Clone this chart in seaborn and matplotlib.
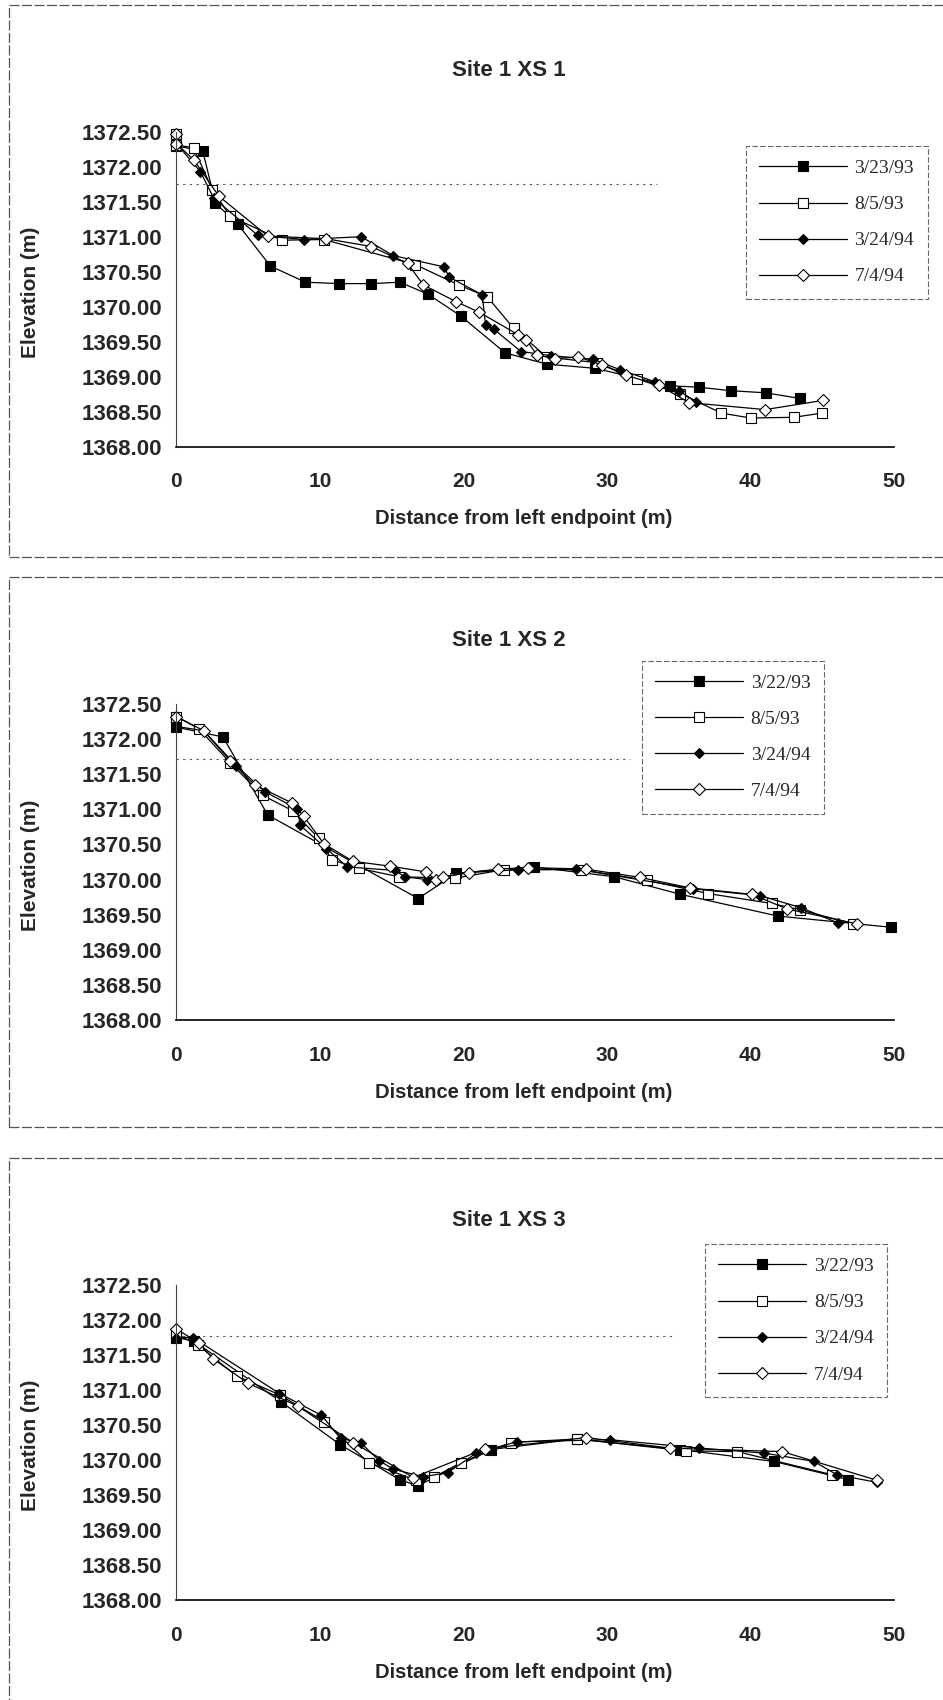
import matplotlib
matplotlib.use('Agg')
import matplotlib.pyplot as plt
from matplotlib.patches import Rectangle
from matplotlib.ticker import FormatStrFormatter, MultipleLocator
import seaborn as sns

sns.set_style('white')
plt.rcParams['font.family'] = ['Liberation Sans', 'DejaVu Sans']

# ---- Site 1 XS 1 ----
xs1_labels = ['3/23/93', '8/5/93', '3/24/94', '7/4/94']
xs1_dist_a = [0, 1.84, 2.72, 4.27, 6.55, 8.99, 11.31, 13.57, 15.56, 17.51, 19.79, 22.9, 25.78, 29.15,
              34.35, 36.4, 38.6, 41.05, 43.4]
xs1_elev_a = [1372.30, 1372.22, 1371.48, 1371.18, 1370.58, 1370.35, 1370.33, 1370.33, 1370.35, 1370.18,
              1369.87, 1369.34, 1369.18, 1369.12, 1368.87, 1368.85, 1368.80, 1368.77, 1368.69]
xs1_dist_b = [0, 0, 1.2, 2.5, 3.76, 7.36, 10.27, 16.65, 19.67, 21.65, 23.5, 25.8, 29.3, 32.1, 35.1,
              37.95, 40.0, 43.0, 44.95]
xs1_elev_b = [1372.47, 1372.31, 1372.27, 1371.67, 1371.29, 1370.95, 1370.96, 1370.60, 1370.31, 1370.14,
              1369.69, 1369.28, 1369.20, 1368.97, 1368.76, 1368.48, 1368.41, 1368.42, 1368.48]
xs1_dist_c = [0, 1.67, 2.6, 5.67, 8.87, 12.87, 15.1, 18.63, 19.02, 21.3, 21.53, 22.1, 24.0, 26.1, 29.0,
              30.9, 33.3, 35.0, 36.2]
xs1_elev_c = [1372.33, 1371.93, 1371.55, 1371.02, 1370.96, 1371.00, 1370.73, 1370.57, 1370.42, 1370.17,
              1369.74, 1369.68, 1369.36, 1369.30, 1369.25, 1369.10, 1368.93, 1368.80, 1368.64]
xs1_dist_d = [0, 0, 1.2, 2.95, 6.36, 10.45, 13.57, 16.1, 17.2, 19.5, 21.1, 23.8, 24.37, 25.1, 26.35,
              28.0, 29.65, 31.3, 33.6, 35.7, 41.0, 45.0]
xs1_elev_d = [1372.47, 1372.33, 1372.10, 1371.58, 1371.01, 1370.97, 1370.86, 1370.62, 1370.31, 1370.07,
              1369.92, 1369.60, 1369.53, 1369.31, 1369.26, 1369.28, 1369.17, 1369.02, 1368.88, 1368.63,
              1368.53, 1368.66]

# ---- Site 1 XS 2 ----
xs2_labels = ['3/22/93', '8/5/93', '3/24/94', '7/4/94']
xs2_dist_a = [0, 3.25, 6.36, 16.84, 19.5, 24.9, 30.5, 35.1, 41.9, 49.8]
xs2_elev_a = [1372.17, 1372.03, 1370.92, 1369.73, 1370.09, 1370.18, 1370.04, 1369.79, 1369.48, 1369.32]
xs2_dist_b = [0, 1.56, 3.76, 6.0, 8.1, 9.9, 10.85, 12.7, 15.5, 19.4, 22.8, 28.2, 32.75, 37.05, 41.45,
              43.4, 47.15]
xs2_elev_b = [1372.32, 1372.15, 1371.66, 1371.20, 1370.98, 1370.59, 1370.28, 1370.16, 1370.04, 1370.02,
              1370.14, 1370.14, 1369.99, 1369.80, 1369.66, 1369.57, 1369.37]
xs2_dist_c = [0, 1.9, 4.18, 6.16, 8.4, 8.64, 10.45, 11.9, 15.2, 15.9, 17.42, 20.4, 23.8, 27.8, 35.96,
              40.65, 43.5, 46.1]
xs2_elev_c = [1372.18, 1372.12, 1371.62, 1371.25, 1371.01, 1370.77, 1370.44, 1370.18, 1370.13, 1370.04,
              1370.00, 1370.10, 1370.14, 1370.15, 1369.87, 1369.77, 1369.60, 1369.38]
xs2_dist_d = [0, 1.9, 3.76, 5.44, 8.06, 8.87, 10.27, 12.3, 14.9, 17.35, 18.05, 18.6, 20.4, 22.4, 24.5,
              28.5, 32.3, 35.8, 40.07, 42.55, 47.4]
xs2_elev_d = [1372.32, 1372.12, 1371.69, 1371.35, 1371.09, 1370.90, 1370.51, 1370.26, 1370.19, 1370.11,
              1370.00, 1370.04, 1370.10, 1370.15, 1370.17, 1370.15, 1370.03, 1369.88, 1369.79, 1369.58,
              1369.37]

# ---- Site 1 XS 3 ----
xs3_labels = ['3/22/93', '8/5/93', '3/24/94', '7/4/94']
xs3_dist_a = [0, 1.2, 7.3, 11.4, 15.55, 16.8, 21.9, 27.9, 35.05, 41.6, 46.8]
xs3_elev_a = [1371.75, 1371.70, 1370.83, 1370.22, 1369.72, 1369.63, 1370.15, 1370.30, 1370.15, 1369.98,
              1369.72]
xs3_dist_b = [0, 1.5, 4.2, 7.2, 10.3, 13.4, 16.7, 17.97, 19.8, 23.3, 27.9, 35.5, 39.05, 45.66]
xs3_elev_b = [1371.80, 1371.64, 1371.20, 1370.93, 1370.55, 1369.96, 1369.71, 1369.76, 1369.96, 1370.25,
              1370.30, 1370.13, 1370.12, 1369.79]
xs3_dist_c = [0, 1.14, 7.18, 10.1, 11.43, 12.86, 14.14, 15.08, 17.17, 18.9, 20.9, 23.7, 30.2, 36.4,
              40.9, 44.4, 46.0, 48.8]
xs3_elev_c = [1371.75, 1371.75, 1370.95, 1370.64, 1370.31, 1370.24, 1369.99, 1369.87, 1369.76, 1369.82,
              1370.10, 1370.26, 1370.29, 1370.17, 1370.10, 1369.98, 1369.79, 1369.68]
xs3_dist_d = [0, 1.6, 2.53, 4.97, 8.45, 12.3, 16.5, 21.5, 28.55, 34.35, 42.2, 48.8]
xs3_elev_d = [1371.87, 1371.67, 1371.45, 1371.10, 1370.77, 1370.25, 1369.75, 1370.16, 1370.32, 1370.17,
              1370.12, 1369.71]

# dotted reference level on each section and where it stops
ref_level = [1371.75, 1371.71, 1371.77]
ref_end = [33.5, 31.6, 34.7]

titles = ['Site 1 XS 1', 'Site 1 XS 2', 'Site 1 XS 3']

sections = [
    (xs1_labels, [(xs1_dist_a, xs1_elev_a), (xs1_dist_b, xs1_elev_b), (xs1_dist_c, xs1_elev_c), (xs1_dist_d, xs1_elev_d)]),
    (xs2_labels, [(xs2_dist_a, xs2_elev_a), (xs2_dist_b, xs2_elev_b), (xs2_dist_c, xs2_elev_c), (xs2_dist_d, xs2_elev_d)]),
    (xs3_labels, [(xs3_dist_a, xs3_elev_a), (xs3_dist_b, xs3_elev_b), (xs3_dist_c, xs3_elev_c), (xs3_dist_d, xs3_elev_d)]),
]

# marker styles: filled square, open square, filled diamond, open diamond
styles = [
    dict(marker='s', markersize=7, markerfacecolor='black'),
    dict(marker='s', markersize=7.5, markerfacecolor='white'),
    dict(marker='D', markersize=5, markerfacecolor='black'),
    dict(marker='D', markersize=6, markerfacecolor='white'),
]

W, H = 943, 1700
fig = plt.figure(figsize=(W / 100, H / 100), dpi=100)

# pixel layout: axes top/bottom, title y, legend anchor, panel frame
layout = [
    dict(top=131.7, bottom=446.7, title_y=70, leg=(1.0466, 0.9546), frame=(5, 557)),
    dict(top=704, bottom=1020, title_y=640, leg=(0.902, 1.137), frame=(577, 1127)),
    dict(top=1285, bottom=1600, title_y=1220, leg=(0.990, 1.130), frame=(1158, 1720)),
]
left, right = 176.4, 894.3

for i, (labels, series) in enumerate(sections):
    lay = layout[i]
    ax = fig.add_axes([left / W, 1 - lay['bottom'] / H, (right - left) / W,
                       (lay['bottom'] - lay['top']) / H])

    f0, f1 = lay['frame']
    fig.add_artist(Rectangle((9 / W, 1 - f1 / H), 1.1, (f1 - f0) / H, transform=fig.transFigure,
                             fill=False, edgecolor='#555555', linewidth=0.9, linestyle=(0, (8, 2))))

    ax.hlines(ref_level[i], 0, ref_end[i], colors='#555555', linewidth=0.8, linestyles=(0, (2, 4)))

    for (d, e), lab, st in zip(series, labels, styles):
        sns.lineplot(x=d, y=e, ax=ax, sort=False, estimator=None, color='black', linewidth=0.9,
                     markeredgecolor='black', markeredgewidth=0.8, label=lab, clip_on=False, **st)

    ax.set_xlim(0, 50)
    ax.set_ylim(1368.0, 1372.5)
    ax.xaxis.set_major_locator(MultipleLocator(10))
    ax.yaxis.set_major_locator(MultipleLocator(0.5))
    ax.yaxis.set_major_formatter(FormatStrFormatter('%.2f'))
    for s in ['top', 'right']:
        ax.spines[s].set_visible(False)
    ax.spines['left'].set_color('#444444')
    ax.spines['left'].set_linewidth(0.8)
    ax.spines['bottom'].set_color('black')
    ax.spines['bottom'].set_linewidth(1.2)
    ax.tick_params(axis='both', direction='inout', length=7, width=0.8, color='#333333')
    ax.tick_params(axis='x', pad=15, labelsize=15)
    ax.tick_params(axis='y', pad=7, labelsize=16)
    for t in ax.get_xticklabels() + ax.get_yticklabels():
        t.set_fontweight('bold')

    ax.set_xlabel('Distance from left endpoint (m)', fontsize=14.5, fontweight='bold')
    ax.set_ylabel('Elevation (m)', fontsize=15, fontweight='bold')
    ax.xaxis.set_label_coords(0.484, -72 / 315)
    ax.xaxis.label.set_va('center')
    ax.yaxis.set_label_coords((31 - left) / (right - left), 0.49)
    ax.yaxis.label.set_va('center')

    fig.text(509 / W, 1 - lay['title_y'] / H, titles[i], ha='center', va='center',
             fontsize=16, fontweight='bold')

    handles, labs = ax.get_legend_handles_labels()
    leg = ax.legend(handles, labs, loc='upper right', bbox_to_anchor=lay['leg'], borderaxespad=0,
                    prop={'family': 'Liberation Serif', 'size': 14}, handlelength=4.5,
                    handletextpad=0.4, labelspacing=0.95, borderpad=0.7, fancybox=False,
                    frameon=True, numpoints=1)
    fr = leg.get_frame()
    fr.set_edgecolor('#444444')
    fr.set_linewidth(0.8)
    fr.set_linestyle((0, (5, 2)))

fig.savefig('out.png', dpi=100)
